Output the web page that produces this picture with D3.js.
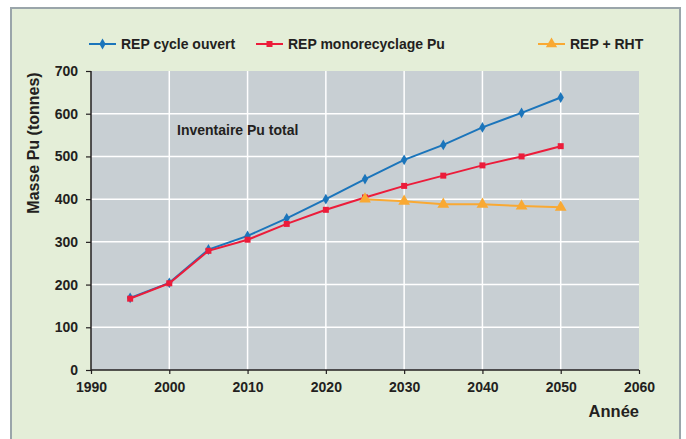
<!DOCTYPE html>
<html>
<head>
<meta charset="utf-8">
<script src="https://cdn.jsdelivr.net/npm/d3@7/dist/d3.min.js"></script>
<style>
  html, body { margin: 0; padding: 0; background: #ffffff; }
  svg { display: block; }
  text { font-family: "Liberation Sans", Arial, Helvetica, sans-serif; font-weight: bold; fill: #231f20; }
</style>
</head>
<body>
<svg id="chart" width="686" height="439"></svg>
<script>
// Plutonium inventory scenarios (tonnes)
const yearsOuvert = [1995, 2000, 2005, 2010, 2015, 2020, 2025, 2030, 2035, 2040, 2045, 2050];
const cycleOuvert = [169, 204, 282, 314, 355, 400, 447, 492, 527, 568, 602, 638];
const yearsMono = [1995, 2000, 2005, 2010, 2015, 2020, 2025, 2030, 2035, 2040, 2045, 2050];
const monorecyclage = [167, 203, 279, 305, 342, 375, 404, 431, 455, 479, 500, 524];
const yearsRht = [2025, 2030, 2035, 2040, 2045, 2050];
const repRht = [400, 395, 388, 388, 384, 381];

const xTicks = [1990, 2000, 2010, 2020, 2030, 2040, 2050, 2060];
const yTicks = [0, 100, 200, 300, 400, 500, 600, 700];

const seriesNames = ["REP cycle ouvert", "REP monorecyclage Pu", "REP + RHT"];
const colors = ["#1b75bb", "#ec1c3a", "#f9a933"];

(function () {
  const svg = d3.select("#chart");

  // Frame
  svg.append("rect").attr("x", 11).attr("y", 8).attr("width", 669).attr("height", 440)
    .attr("fill", "#e4eed8").attr("stroke", "#9aa5aa").attr("stroke-width", 2);

  const pLeft = 91, pRight = 639, pTop = 71, pBottom = 370;
  const x = d3.scaleLinear().domain([1990, 2060]).range([pLeft, pRight]);
  const y = d3.scaleLinear().domain([0, 700]).range([pBottom, pTop]);

  // Plot area
  svg.append("rect").attr("x", pLeft).attr("y", pTop).attr("width", pRight - pLeft).attr("height", pBottom - pTop)
    .attr("fill", "#c8cfd3");

  // Grid
  const grid = svg.append("g");
  grid.selectAll("line.v").data(xTicks.slice(1, -1)).join("line").attr("class", "v")
    .attr("x1", d => x(d)).attr("x2", d => x(d)).attr("y1", pTop).attr("y2", pBottom)
    .attr("stroke", "#ffffff").attr("stroke-width", 1.5);
  grid.selectAll("line.h").data(yTicks.slice(1, -1)).join("line").attr("class", "h")
    .attr("x1", pLeft).attr("x2", pRight).attr("y1", d => y(d)).attr("y2", d => y(d))
    .attr("stroke", "#ffffff").attr("stroke-width", 1.5);

  // Axes
  const xAxis = d3.axisBottom(x).tickValues(xTicks).tickFormat(d3.format("d")).tickSize(4).tickPadding(8);
  const yAxis = d3.axisLeft(y).tickValues(yTicks).tickSize(5).tickPadding(8);

  const gx = svg.append("g").attr("transform", `translate(0,${pBottom})`).call(xAxis);
  const gy = svg.append("g").attr("transform", `translate(${pLeft},0)`).call(yAxis);
  [gx, gy].forEach(g => {
    g.select(".domain").attr("stroke", "#231f20").attr("stroke-width", 1.5);
    g.selectAll(".tick line").attr("stroke", "#231f20").attr("stroke-width", 1.2);
    g.selectAll(".tick text").attr("font-size", 14).attr("font-family", "'Liberation Sans', Arial, sans-serif")
      .attr("font-weight", "bold").attr("fill", "#231f20");
  });
  gy.select(".domain").attr("d", `M0,${pBottom}V${pTop}`);
  gx.select(".domain").attr("d", `M${pLeft},0H${pRight}`);

  // Titles
  svg.append("text").attr("transform", `translate(39,143) rotate(-90)`).attr("text-anchor", "middle")
    .attr("font-size", 16).text("Masse Pu (tonnes)");
  svg.append("text").attr("x", 639).attr("y", 417).attr("text-anchor", "end")
    .attr("font-size", 16.5).text("Année");
  svg.append("text").attr("x", 177).attr("y", 135).attr("font-size", 14).text("Inventaire Pu total");

  // Series
  const line = d3.line().x(d => x(d[0])).y(d => y(d[1]));
  const series = [
    { data: d3.zip(yearsOuvert, cycleOuvert), color: colors[0], symbol: d3.symbolDiamond, size: 34 },
    { data: d3.zip(yearsMono, monorecyclage), color: colors[1], symbol: d3.symbolSquare, size: 36 },
    { data: d3.zip(yearsRht, repRht), color: colors[2], symbol: d3.symbolTriangle, size: 60 }
  ];

  series.forEach(s => {
    svg.append("path").datum(s.data).attr("d", line)
      .attr("fill", "none").attr("stroke", s.color).attr("stroke-width", 2);
    svg.append("g").selectAll("path").data(s.data).join("path")
      .attr("transform", d => `translate(${x(d[0])},${y(d[1])})`)
      .attr("d", d3.symbol().type(s.symbol).size(s.size))
      .attr("fill", s.color);
  });

  // Legend
  const legendItems = [
    { name: seriesNames[0], x0: 89, color: colors[0], symbol: d3.symbolDiamond, size: 34 },
    { name: seriesNames[1], x0: 256, color: colors[1], symbol: d3.symbolSquare, size: 36 },
    { name: seriesNames[2], x0: 538, color: colors[2], symbol: d3.symbolTriangle, size: 55 }
  ];
  const legend = svg.append("g");
  legendItems.forEach(it => {
    const g = legend.append("g");
    g.append("line").attr("x1", it.x0).attr("x2", it.x0 + 27).attr("y1", 44).attr("y2", 44)
      .attr("stroke", it.color).attr("stroke-width", 2);
    g.append("path").attr("transform", `translate(${it.x0 + 13.5},44)`)
      .attr("d", d3.symbol().type(it.symbol).size(it.size)).attr("fill", it.color);
    g.append("text").attr("x", it.x0 + 32).attr("y", 49).attr("font-size", 14).text(it.name);
  });
})();
</script>
</body>
</html>
